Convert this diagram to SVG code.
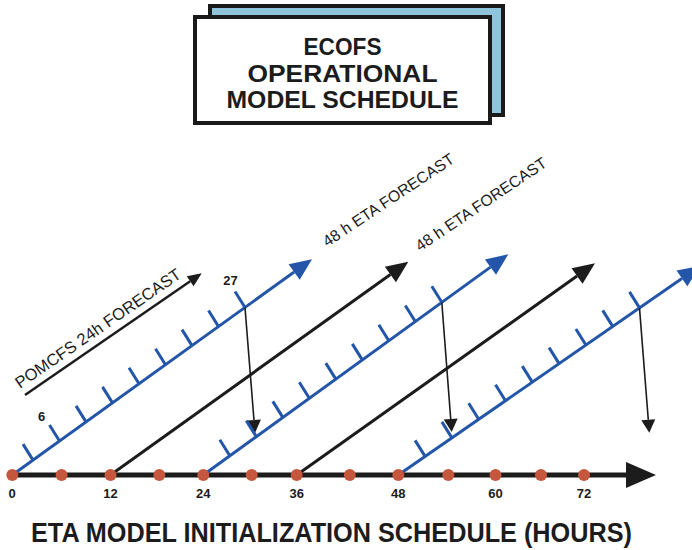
<svg xmlns="http://www.w3.org/2000/svg" width="692" height="550" viewBox="0 0 692 550">
<defs>
<style>
.t{font-family:"Liberation Sans",Arial,Helvetica,sans-serif;fill:#1c1c1c}
.title{font-size:23px;font-weight:bold;text-anchor:middle}
.num{font-size:13px;font-weight:bold;text-anchor:middle}
.lab{font-size:15.8px}
.big{font-size:27px;font-weight:bold}
.blue{stroke:#2356a8;stroke-width:3;fill:none}
.blk{stroke:#1c1c1c;stroke-width:3;fill:none}
.vert{stroke:#1c1c1c;stroke-width:1.6;fill:none}
.tick{stroke:#2356a8;stroke-width:3;fill:none}
.dot{fill:#c4573d}
.box{stroke:#1a1a1a;stroke-width:4}
</style>
<marker id="hb" markerUnits="userSpaceOnUse" markerWidth="24" markerHeight="20" refX="0" refY="9.5" orient="auto" overflow="visible"><path d="M0,0 L22,9.5 L0,19 Z" fill="#2356a8"/></marker>
<marker id="hk" markerUnits="userSpaceOnUse" markerWidth="24" markerHeight="20" refX="0" refY="9.5" orient="auto" overflow="visible"><path d="M0,0 L22,9.5 L0,19 Z" fill="#1c1c1c"/></marker>
<marker id="hv" markerUnits="userSpaceOnUse" markerWidth="14" markerHeight="15" refX="0" refY="7" orient="auto" overflow="visible"><path d="M0,0 L13,7 L0,14 Z" fill="#1c1c1c"/></marker>
<marker id="hp" markerUnits="userSpaceOnUse" markerWidth="15" markerHeight="13" refX="0" refY="6" orient="auto" overflow="visible"><path d="M0,0 L14,6 L0,12 Z" fill="#1c1c1c"/></marker>
</defs>
<rect width="692" height="550" fill="#ffffff"/>

<g id="title-box">
<rect class="box" x="210" y="6" width="293" height="109" fill="#8ec5dc"/>
<rect class="box" x="195" y="17" width="295" height="106" fill="#ffffff"/>
<text class="t title" x="342.5" y="55" textLength="78" lengthAdjust="spacingAndGlyphs">ECOFS</text>
<text class="t title" x="342.5" y="82" textLength="190" lengthAdjust="spacingAndGlyphs">OPERATIONAL</text>
<text class="t title" x="342.5" y="108" textLength="232" lengthAdjust="spacingAndGlyphs">MODEL SCHEDULE</text>
</g>

<g id="connectors">
<!-- forecast lines -->
<line id="blue1" class="blue" x1="12.3" y1="475" x2="294.15" y2="272.05" marker-end="url(#hb)"/>
<line id="blackA" class="blk" x1="110.5" y1="475" x2="390.41" y2="274.51" marker-end="url(#hk)"/>
<line id="blue2" class="blue" x1="203.3" y1="475" x2="490.48" y2="267.1" marker-end="url(#hb)"/>
<line id="blackB" class="blk" x1="296.7" y1="475" x2="577.06" y2="276.03" marker-end="url(#hk)"/>
<line id="blue3" class="blue" x1="398.3" y1="475" x2="681.92" y2="278.43" marker-end="url(#hb)"/>
<!-- POMCFS arrow -->
<line class="blk" style="stroke-width:2.5" x1="25" y1="395" x2="190.17" y2="281.24" marker-end="url(#hp)"/>
<!-- vertical hand-off arrows -->
<line class="vert" x1="245" y1="307.5" x2="253.97" y2="420.04" marker-end="url(#hv)"/>
<line class="vert" x1="441.8" y1="302.3" x2="450.71" y2="419.04" marker-end="url(#hv)"/>
<line class="vert" x1="639.5" y1="307.9" x2="648.28" y2="419.74" marker-end="url(#hv)"/>
</g>

<g id="ticks-line1">
<path class="tick" d="M33,460.1 l-10,-16 M59.5,441 l-10,-16 M86,421.9 l-10,-16 M112.5,402.9 l-10,-16 M139,383.8 l-10,-16 M165.5,364.7 l-10,-16 M192,345.6 l-10,-16 M218.5,326.5 l-10,-16 M245,307.5 l-10,-16"/>
<text class="t num" x="41.5" y="421">6</text>
<text class="t num" x="230.5" y="285">27</text>
</g>
<g id="ticks-line2">
<path class="tick" d="M229.8,455.8 l-10,-16 M256.3,436.6 l-10,-16 M282.8,417.4 l-10,-16 M309.3,398.2 l-10,-16 M335.8,379.1 l-10,-16 M362.3,359.9 l-10,-16 M388.8,340.7 l-10,-16 M415.3,321.5 l-10,-16 M441.8,302.3 l-10,-16"/>
</g>
<g id="ticks-line3">
<path class="tick" d="M425.1,456.4 l-10,-16 M451.9,437.9 l-10,-16 M478.7,419.3 l-10,-16 M505.5,400.7 l-10,-16 M532.3,382.1 l-10,-16 M559.1,363.6 l-10,-16 M585.9,345 l-10,-16 M612.7,326.4 l-10,-16 M639.5,307.9 l-10,-16"/>
</g>

<g id="labels">
<text class="t" style="font-size:16.5px" transform="translate(20,389) rotate(-34.6)">POMCFS 24h FORECAST</text>
<text class="t lab" transform="translate(327.3,247.3) rotate(-33.7)">48 h ETA FORECAST</text>
<text class="t lab" transform="translate(420,251.7) rotate(-33.9)">48 h ETA FORECAST</text>
</g>

<g id="time-axis">
<line x1="12" y1="475" x2="628" y2="475" stroke="#1c1c1c" stroke-width="5"/>
<polygon points="626,462 656,475 626,488" fill="#1c1c1c"/>
<circle class="dot" cx="12.3" cy="475" r="6"/>
<circle class="dot" cx="61.6" cy="475" r="6"/>
<circle class="dot" cx="110.5" cy="475" r="6"/>
<circle class="dot" cx="159.3" cy="475" r="6"/>
<circle class="dot" cx="203.3" cy="475" r="6"/>
<circle class="dot" cx="251.7" cy="475" r="6"/>
<circle class="dot" cx="296.7" cy="475" r="6"/>
<circle class="dot" cx="349.8" cy="475" r="6"/>
<circle class="dot" cx="398.3" cy="475" r="6"/>
<circle class="dot" cx="448.3" cy="475" r="6"/>
<circle class="dot" cx="495.5" cy="475" r="6"/>
<circle class="dot" cx="541" cy="475" r="6"/>
<circle class="dot" cx="584" cy="475" r="6"/>
<text class="t num" x="12" y="498">0</text>
<text class="t num" x="110.5" y="498">12</text>
<text class="t num" x="203.3" y="498">24</text>
<text class="t num" x="296.7" y="498">36</text>
<text class="t num" x="398.3" y="498">48</text>
<text class="t num" x="495.5" y="498">60</text>
<text class="t num" x="584" y="498">72</text>
</g>

<g id="axis-title">
<text class="t big" x="31" y="542" textLength="601" lengthAdjust="spacingAndGlyphs">ETA MODEL INITIALIZATION SCHEDULE (HOURS)</text>
</g>
</svg>
